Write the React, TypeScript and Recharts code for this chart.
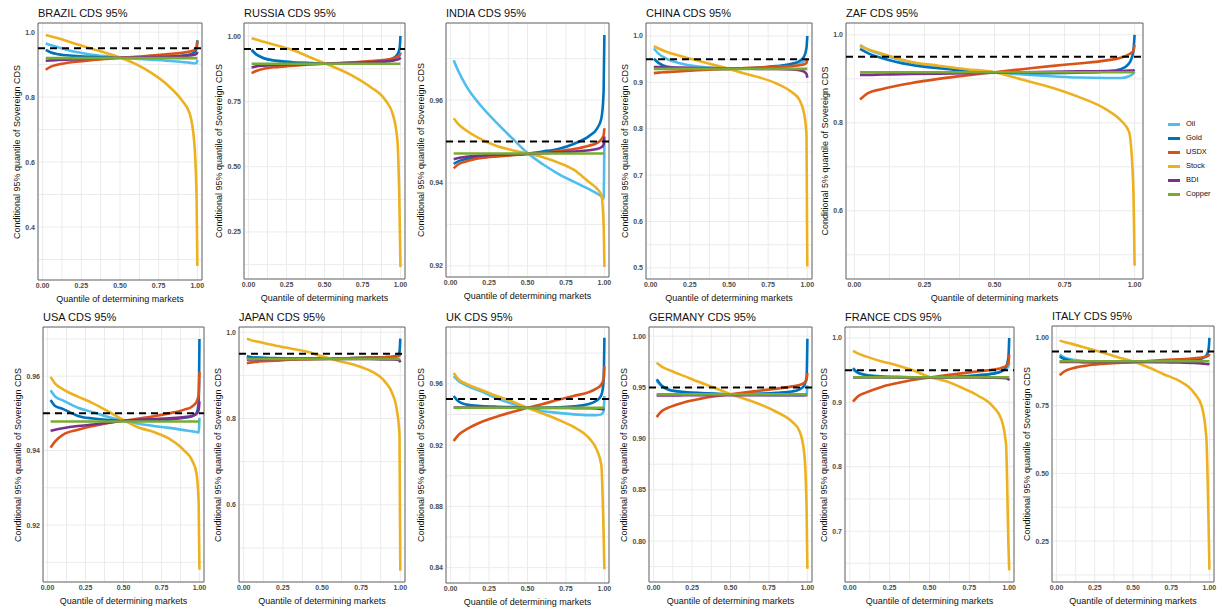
import React from 'react';
import { LineChart, Line, XAxis, YAxis, CartesianGrid, ReferenceLine, ReferenceArea } from 'recharts';

// quantile grid of the determining market (x axis)
const quantiles = [0.02, 0.05, 0.1, 0.2, 0.3, 0.4, 0.5, 0.6, 0.7, 0.8, 0.9, 0.95, 0.98, 0.995, 1.0];

const seriesNames = ['Oil', 'Gold', 'USDX', 'Stock', 'BDI', 'Copper'];
const seriesColors: Record<string, string> = {
    Oil: '#4DBEEE',
    Gold: '#0072BD',
    USDX: '#D95319',
    Stock: '#EDB120',
    BDI: '#7E2F8E',
    Copper: '#77AC30',
};

const xMajorTicks = [0, 0.25, 0.5, 0.75, 1];
const xMinorTicks = [0.125, 0.375, 0.625, 0.875];
const threshold = 0.95;

const brazil: Record<string, number[]> = {
    Oil: [0.965, 0.96, 0.953, 0.94, 0.932, 0.926, 0.921, 0.918, 0.915, 0.912, 0.908, 0.906, 0.904, 0.905, 0.915],
    Gold: [0.945, 0.938, 0.932, 0.927, 0.924, 0.922, 0.921, 0.921, 0.922, 0.924, 0.927, 0.931, 0.938, 0.95, 0.975],
    USDX: [0.884, 0.893, 0.9, 0.908, 0.913, 0.917, 0.921, 0.924, 0.928, 0.932, 0.936, 0.94, 0.945, 0.952, 0.972],
    Stock: [0.991, 0.987, 0.981, 0.966, 0.951, 0.937, 0.922, 0.902, 0.875, 0.84, 0.79, 0.75, 0.66, 0.49, 0.28],
    BDI: [0.912, 0.913, 0.914, 0.916, 0.918, 0.92, 0.921, 0.922, 0.923, 0.924, 0.926, 0.928, 0.93, 0.933, 0.94],
    Copper: [0.92, 0.92, 0.92, 0.92, 0.92, 0.92, 0.92, 0.92, 0.92, 0.92, 0.92, 0.92, 0.92, 0.92, 0.92],
};

const russia: Record<string, number[]> = {
    Oil: [0.945, 0.93, 0.916, 0.905, 0.9, 0.897, 0.895, 0.895, 0.896, 0.898, 0.902, 0.907, 0.915, 0.925, 0.94],
    Gold: [0.948, 0.93, 0.915, 0.904, 0.899, 0.897, 0.895, 0.896, 0.898, 0.901, 0.907, 0.915, 0.93, 0.955, 1.0],
    USDX: [0.858, 0.866, 0.875, 0.882, 0.887, 0.891, 0.894, 0.897, 0.9, 0.904, 0.909, 0.914, 0.92, 0.927, 0.935],
    Stock: [0.992, 0.987, 0.978, 0.962, 0.945, 0.92, 0.896, 0.872, 0.843, 0.806, 0.755, 0.7, 0.6, 0.3, 0.116],
    BDI: [0.88, 0.884, 0.887, 0.89, 0.892, 0.893, 0.894, 0.896, 0.898, 0.9, 0.903, 0.906, 0.91, 0.913, 0.918],
    Copper: [0.894, 0.894, 0.894, 0.894, 0.894, 0.894, 0.894, 0.894, 0.894, 0.894, 0.894, 0.894, 0.894, 0.894, 0.894],
};

const india: Record<string, number[]> = {
    Oil: [0.9696, 0.967, 0.9635, 0.9585, 0.9545, 0.9508, 0.9472, 0.9445, 0.9422, 0.9403, 0.9385, 0.9375, 0.9368, 0.9362, 0.9505],
    Gold: [0.9446, 0.9452, 0.9458, 0.9462, 0.9465, 0.9468, 0.9471, 0.9476, 0.9482, 0.9494, 0.9513, 0.953, 0.9555, 0.962, 0.9757],
    USDX: [0.9435, 0.9445, 0.9452, 0.946, 0.9464, 0.9467, 0.947, 0.9473, 0.9477, 0.9482, 0.949, 0.9496, 0.9505, 0.9515, 0.9532],
    Stock: [0.9556, 0.9542, 0.9527, 0.9505, 0.9489, 0.9479, 0.9471, 0.9462, 0.9449, 0.9432, 0.9402, 0.9387, 0.9371, 0.93, 0.9197],
    BDI: [0.9457, 0.946, 0.9463, 0.9466, 0.9468, 0.9469, 0.947, 0.9472, 0.9474, 0.9476, 0.9479, 0.9482, 0.9486, 0.9493, 0.9512],
    Copper: [0.9471, 0.9471, 0.9471, 0.9471, 0.9471, 0.9471, 0.9471, 0.9471, 0.9471, 0.9471, 0.9471, 0.9471, 0.9471, 0.9471, 0.9471],
};

const china: Record<string, number[]> = {
    Oil: [0.973, 0.962, 0.951, 0.94, 0.934, 0.931, 0.929, 0.93, 0.931, 0.934, 0.938, 0.942, 0.946, 0.949, 0.95],
    Gold: [0.951, 0.942, 0.934, 0.93, 0.929, 0.929, 0.929, 0.93, 0.932, 0.935, 0.94, 0.946, 0.956, 0.975, 1.0],
    USDX: [0.92, 0.921, 0.922, 0.924, 0.926, 0.928, 0.929, 0.931, 0.932, 0.934, 0.935, 0.937, 0.939, 0.942, 0.948],
    Stock: [0.978, 0.973, 0.966, 0.956, 0.947, 0.938, 0.929, 0.919, 0.91, 0.898, 0.879, 0.862, 0.832, 0.785, 0.503],
    BDI: [0.933, 0.933, 0.932, 0.932, 0.931, 0.931, 0.93, 0.93, 0.929, 0.929, 0.928, 0.926, 0.923, 0.918, 0.91],
    Copper: [0.929, 0.929, 0.929, 0.929, 0.929, 0.929, 0.929, 0.929, 0.929, 0.929, 0.929, 0.929, 0.929, 0.929, 0.929],
};

const zaf: Record<string, number[]> = {
    Oil: [0.977, 0.966, 0.955, 0.938, 0.928, 0.92, 0.915, 0.91, 0.906, 0.903, 0.902, 0.902, 0.906, 0.912, 0.916],
    Gold: [0.968, 0.958, 0.947, 0.932, 0.924, 0.918, 0.915, 0.914, 0.913, 0.914, 0.917, 0.922, 0.935, 0.96, 1.0],
    USDX: [0.853, 0.868, 0.877, 0.89, 0.9, 0.908, 0.915, 0.922, 0.929, 0.935, 0.942, 0.948, 0.956, 0.963, 0.977],
    Stock: [0.974, 0.967, 0.957, 0.939, 0.93, 0.922, 0.915, 0.898, 0.881, 0.859, 0.83, 0.806, 0.78, 0.66, 0.475],
    BDI: [0.909, 0.909, 0.91, 0.911, 0.912, 0.913, 0.914, 0.915, 0.916, 0.917, 0.918, 0.918, 0.919, 0.919, 0.921],
    Copper: [0.915, 0.915, 0.915, 0.915, 0.915, 0.915, 0.915, 0.915, 0.915, 0.915, 0.915, 0.915, 0.915, 0.915, 0.915],
};

const usa: Record<string, number[]> = {
    Oil: [0.9562, 0.9545, 0.9535, 0.9515, 0.9503, 0.949, 0.948, 0.9472, 0.9466, 0.9461, 0.9455, 0.9452, 0.945, 0.9449, 0.9488],
    Gold: [0.9536, 0.952, 0.9512, 0.9493, 0.9486, 0.9482, 0.948, 0.948, 0.9481, 0.9483, 0.9488, 0.9492, 0.95, 0.953, 0.97],
    USDX: [0.9408, 0.9425, 0.9442, 0.9456, 0.9466, 0.9474, 0.948, 0.9486, 0.9492, 0.95, 0.951, 0.9518, 0.953, 0.955, 0.9612],
    Stock: [0.9598, 0.958, 0.9565, 0.9545, 0.9527, 0.9505, 0.9482, 0.9462, 0.945, 0.9432, 0.94, 0.9375, 0.934, 0.926, 0.908],
    BDI: [0.9453, 0.9456, 0.946, 0.9466, 0.947, 0.9475, 0.948, 0.9483, 0.9485, 0.9487, 0.949, 0.9493, 0.9498, 0.951, 0.9532],
    Copper: [0.9478, 0.9478, 0.9478, 0.9478, 0.9478, 0.9478, 0.9478, 0.9478, 0.9478, 0.9478, 0.9478, 0.9478, 0.9478, 0.9478, 0.9478],
};

const japan: Record<string, number[]> = {
    Oil: [0.943, 0.941, 0.94, 0.939, 0.939, 0.939, 0.939, 0.939, 0.939, 0.94, 0.941, 0.942, 0.944, 0.946, 0.948],
    Gold: [0.944, 0.942, 0.941, 0.94, 0.939, 0.939, 0.939, 0.939, 0.94, 0.941, 0.942, 0.943, 0.946, 0.955, 0.985],
    USDX: [0.928, 0.93, 0.932, 0.934, 0.936, 0.937, 0.938, 0.939, 0.94, 0.941, 0.942, 0.943, 0.944, 0.946, 0.95],
    Stock: [0.985, 0.981, 0.977, 0.969, 0.962, 0.955, 0.944, 0.934, 0.925, 0.912, 0.886, 0.857, 0.815, 0.76, 0.447],
    BDI: [0.936, 0.937, 0.937, 0.938, 0.938, 0.938, 0.938, 0.938, 0.938, 0.938, 0.937, 0.937, 0.936, 0.934, 0.93],
    Copper: [0.938, 0.938, 0.938, 0.938, 0.938, 0.938, 0.938, 0.938, 0.938, 0.938, 0.938, 0.938, 0.938, 0.938, 0.938],
};

const uk: Record<string, number[]> = {
    Oil: [0.965, 0.962, 0.959, 0.955, 0.9505, 0.947, 0.9443, 0.942, 0.941, 0.94, 0.9395, 0.9395, 0.94, 0.942, 0.952],
    Gold: [0.952, 0.9485, 0.9465, 0.9455, 0.945, 0.9447, 0.9443, 0.9443, 0.9446, 0.9453, 0.9468, 0.949, 0.9525, 0.962, 0.99],
    USDX: [0.9226, 0.9265, 0.93, 0.935, 0.9385, 0.9415, 0.9443, 0.9468, 0.9495, 0.952, 0.9545, 0.957, 0.9595, 0.963, 0.9715],
    Stock: [0.967, 0.963, 0.96, 0.956, 0.952, 0.9485, 0.9443, 0.9405, 0.9365, 0.9318, 0.9245, 0.917, 0.907, 0.862, 0.839],
    BDI: [0.9445, 0.9445, 0.9444, 0.9444, 0.9443, 0.9443, 0.9443, 0.9442, 0.9442, 0.9441, 0.944, 0.9438, 0.9436, 0.9433, 0.943],
    Copper: [0.9443, 0.9443, 0.9443, 0.9443, 0.9443, 0.9443, 0.9443, 0.9443, 0.9443, 0.9443, 0.9443, 0.9443, 0.9443, 0.9443, 0.9443],
};

const germany: Record<string, number[]> = {
    Oil: [0.9565, 0.952, 0.948, 0.9455, 0.9445, 0.944, 0.9433, 0.943, 0.9427, 0.9424, 0.9423, 0.9422, 0.9425, 0.944, 0.952],
    Gold: [0.958, 0.952, 0.9475, 0.9455, 0.9445, 0.9438, 0.9433, 0.9435, 0.944, 0.9448, 0.946, 0.948, 0.952, 0.96, 0.9975],
    USDX: [0.921, 0.9265, 0.9305, 0.9355, 0.9388, 0.9413, 0.9433, 0.9452, 0.947, 0.9488, 0.951, 0.9525, 0.9545, 0.958, 0.964],
    Stock: [0.974, 0.9705, 0.967, 0.961, 0.955, 0.9495, 0.9433, 0.9385, 0.933, 0.926, 0.9165, 0.907, 0.885, 0.83, 0.773],
    BDI: [0.9422, 0.9422, 0.9422, 0.9423, 0.9423, 0.9424, 0.9424, 0.9424, 0.9425, 0.9425, 0.9425, 0.9425, 0.9425, 0.9425, 0.9425],
    Copper: [0.9432, 0.9432, 0.9432, 0.9432, 0.9432, 0.9432, 0.9432, 0.9432, 0.9432, 0.9432, 0.9432, 0.9432, 0.9432, 0.9432, 0.9432],
};

const france: Record<string, number[]> = {
    Oil: [0.9505, 0.946, 0.943, 0.9405, 0.9395, 0.939, 0.9387, 0.939, 0.9405, 0.9425, 0.945, 0.948, 0.952, 0.956, 0.962],
    Gold: [0.953, 0.946, 0.9425, 0.94, 0.9392, 0.9388, 0.9387, 0.9392, 0.94, 0.942, 0.9445, 0.948, 0.955, 0.97, 1.0],
    USDX: [0.901, 0.909, 0.915, 0.924, 0.93, 0.935, 0.9387, 0.942, 0.945, 0.948, 0.951, 0.9535, 0.9565, 0.961, 0.974],
    Stock: [0.98, 0.976, 0.9714, 0.9636, 0.9574, 0.9493, 0.9395, 0.933, 0.923, 0.911, 0.893, 0.874, 0.835, 0.68, 0.639],
    BDI: [0.9387, 0.9387, 0.9387, 0.9387, 0.9387, 0.9387, 0.9387, 0.9387, 0.9386, 0.9385, 0.9383, 0.938, 0.9375, 0.936, 0.934],
    Copper: [0.939, 0.939, 0.939, 0.939, 0.939, 0.939, 0.939, 0.939, 0.939, 0.939, 0.939, 0.939, 0.939, 0.939, 0.939],
};

const italy: Record<string, number[]> = {
    Oil: [0.938, 0.928, 0.92, 0.914, 0.912, 0.9115, 0.9113, 0.9113, 0.912, 0.914, 0.918, 0.923, 0.93, 0.935, 0.94],
    Gold: [0.932, 0.922, 0.915, 0.91, 0.909, 0.9095, 0.911, 0.912, 0.913, 0.915, 0.919, 0.925, 0.935, 0.96, 1.0],
    USDX: [0.862, 0.876, 0.887, 0.898, 0.904, 0.908, 0.911, 0.915, 0.918, 0.921, 0.925, 0.928, 0.932, 0.936, 0.941],
    Stock: [0.99, 0.985, 0.978, 0.962, 0.946, 0.929, 0.913, 0.892, 0.866, 0.842, 0.797, 0.747, 0.63, 0.3, 0.144],
    BDI: [0.911, 0.911, 0.911, 0.911, 0.911, 0.911, 0.911, 0.911, 0.91, 0.909, 0.908, 0.906, 0.904, 0.903, 0.9015],
    Copper: [0.914, 0.914, 0.914, 0.914, 0.914, 0.914, 0.914, 0.914, 0.914, 0.914, 0.914, 0.914, 0.914, 0.914, 0.914],
};

const COND95 = 'Conditional 95% quantile of Sovereign CDS';
const COND5 = 'Conditional 5% quantile of Sovereign CDS';
const FONT = '"Liberation Sans", Arial, Helvetica, sans-serif';

const AXIS_W = 30;
const TOP_PAD = 4;
const RIGHT_PAD = 10;
const X_AXIS_H = 25;
const X_DOMAIN = [-0.03, 1.03];

// box = plot panel [left, top, right, bottom] in page pixels
const panels = [
    { title: 'BRAZIL CDS 95%', values: brazil, yMajor: [0.4, 0.6, 0.8, 1.0], digits: 1, yDomain: [0.237, 1.028], box: [38, 23, 202, 280], yLabel: COND95 },
    { title: 'RUSSIA CDS 95%', values: russia, yMajor: [0.25, 0.5, 0.75, 1.0], digits: 2, yDomain: [0.07, 1.05], box: [244, 23, 405, 279], yLabel: COND95 },
    { title: 'INDIA CDS 95%', values: india, yMajor: [0.92, 0.94, 0.96], digits: 2, yDomain: [0.9173, 0.9786], box: [446, 23, 609, 277], yLabel: COND95 },
    { title: 'CHINA CDS 95%', values: china, yMajor: [0.5, 0.6, 0.7, 0.8, 0.9, 1.0], digits: 1, yDomain: [0.476, 1.028], box: [646, 23, 812, 279], yLabel: COND95 },
    { title: 'ZAF CDS 95%', values: zaf, yMajor: [0.6, 0.8, 1.0], digits: 1, yDomain: [0.445, 1.027], box: [846, 23, 1143, 279], yLabel: COND5 },
    { title: 'USA CDS 95%', values: usa, yMajor: [0.92, 0.94, 0.96], digits: 2, yDomain: [0.9047, 0.9732], box: [43, 327, 204, 582], yLabel: COND95 },
    { title: 'JAPAN CDS 95%', values: japan, yMajor: [0.6, 0.8, 1.0], digits: 1, yDomain: [0.421, 1.012], box: [239, 327, 405, 582], yLabel: COND95 },
    { title: 'UK CDS 95%', values: uk, yMajor: [0.84, 0.88, 0.92, 0.96], digits: 2, yDomain: [0.83, 0.997], box: [446, 327, 609, 583], yLabel: COND95 },
    { title: 'GERMANY CDS 95%', values: germany, yMajor: [0.8, 0.85, 0.9, 0.95, 1.0], digits: 2, yDomain: [0.76, 1.009], box: [649, 327, 812, 582], yLabel: COND95 },
    { title: 'FRANCE CDS 95%', values: france, yMajor: [0.7, 0.8, 0.9, 1.0], digits: 1, yDomain: [0.621, 1.017], box: [845, 327, 1014, 582], yLabel: COND95 },
    { title: 'ITALY CDS 95%', values: italy, yMajor: [0.25, 0.5, 0.75, 1.0], digits: 2, yDomain: [0.099, 1.044], box: [1052, 326, 1214, 582], yLabel: COND95 },
];

function Panel({ p }: { p: any }) {
    const [x0, y0, x1, y1] = p.box;
    const rows = quantiles.map((q, i) => {
        const row: any = { q };
        seriesNames.forEach((n) => {
            row[n] = p.values[n][i];
        });
        return row;
    });

    // minor grid lines half way between major ones
    const step = p.yMajor[1] - p.yMajor[0];
    const yMinor: number[] = [];
    for (let v = p.yMajor[0] - step / 2; v <= p.yDomain[1]; v += step) {
        if (v >= p.yDomain[0]) yMinor.push(Number(v.toFixed(4)));
    }
    const yTicks = [...p.yMajor, ...yMinor].sort((a, b) => a - b);
    const xTicks = [...xMajorTicks, ...xMinorTicks].sort((a, b) => a - b);

    const w = x1 - x0 + AXIS_W + RIGHT_PAD;
    const h = y1 - y0 + TOP_PAD + X_AXIS_H;
    const tick = { fontSize: 7, fill: '#4d4d4d', fontWeight: 'bold', fontFamily: FONT };

    return (
        <>
            <div
                style={{
                    position: 'absolute',
                    left: x0,
                    top: y0 - 16,
                    fontSize: 11,
                    lineHeight: '13px',
                    color: '#111',
                    whiteSpace: 'nowrap',
                }}
            >
                {p.title}
            </div>
            <div
                style={{
                    position: 'absolute',
                    left: x0 - (p.digits === 1 ? 21 : 25),
                    top: (y0 + y1) / 2,
                    transform: 'translate(-50%, -50%) rotate(-90deg)',
                    fontSize: 9,
                    lineHeight: '10px',
                    color: '#111',
                    whiteSpace: 'nowrap',
                }}
            >
                {p.yLabel}
            </div>
            <div style={{ position: 'absolute', left: x0 - AXIS_W, top: y0 - TOP_PAD }}>
                <LineChart
                    width={w}
                    height={h}
                    data={rows}
                    margin={{ top: TOP_PAD, right: RIGHT_PAD, bottom: 0, left: 0 }}
                >
                    <CartesianGrid stroke="#ebebeb" strokeWidth={1} />
                    <XAxis
                        type="number"
                        dataKey="q"
                        domain={X_DOMAIN}
                        ticks={xTicks}
                        interval={0}
                        allowDataOverflow
                        axisLine={false}
                        tickLine={false}
                        tickSize={2}
                        tickMargin={1}
                        height={X_AXIS_H}
                        tick={tick}
                        tickFormatter={(v: number) => (xMajorTicks.includes(v) ? v.toFixed(2) : '')}
                        label={{
                            value: 'Quantile of determining markets',
                            position: 'insideBottom',
                            offset: 3,
                            fontSize: 9,
                            fill: '#111',
                            fontFamily: FONT,
                        }}
                    />
                    <YAxis
                        type="number"
                        domain={p.yDomain}
                        ticks={yTicks}
                        interval={0}
                        allowDataOverflow
                        axisLine={false}
                        tickLine={false}
                        tickSize={2}
                        tickMargin={1}
                        width={AXIS_W}
                        tick={tick}
                        tickFormatter={(v: number) => (p.yMajor.includes(v) ? v.toFixed(p.digits) : '')}
                    />
                    {seriesNames.map((n) => (
                        <Line
                            key={n}
                            type="monotone"
                            dataKey={n}
                            stroke={seriesColors[n]}
                            strokeWidth={2.6}
                            dot={false}
                            isAnimationActive={false}
                        />
                    ))}
                    <ReferenceLine y={threshold} stroke="#000" strokeWidth={2} strokeDasharray="7 5" />
                    <ReferenceArea
                        x1={X_DOMAIN[0]}
                        x2={X_DOMAIN[1]}
                        y1={p.yDomain[0]}
                        y2={p.yDomain[1]}
                        fill="none"
                        stroke="#666"
                        strokeWidth={1}
                    />
                </LineChart>
            </div>
        </>
    );
}

export default function App() {
    return (
        <div
            style={{
                position: 'absolute',
                left: 0,
                top: 0,
                width: 1222,
                height: 610,
                background: '#fff',
                fontFamily: FONT,
                overflow: 'hidden',
            }}
        >
            {panels.map((p) => (
                <Panel key={p.title} p={p} />
            ))}
            <div style={{ position: 'absolute', left: 1168, top: 117 }}>
                {seriesNames.map((n) => (
                    <div key={n} style={{ display: 'flex', alignItems: 'center', height: 14 }}>
                        <div style={{ width: 12, height: 3, background: seriesColors[n], marginRight: 6 }} />
                        <span style={{ fontSize: 7.5, color: '#111', lineHeight: '10px' }}>{n}</span>
                    </div>
                ))}
            </div>
        </div>
    );
}
